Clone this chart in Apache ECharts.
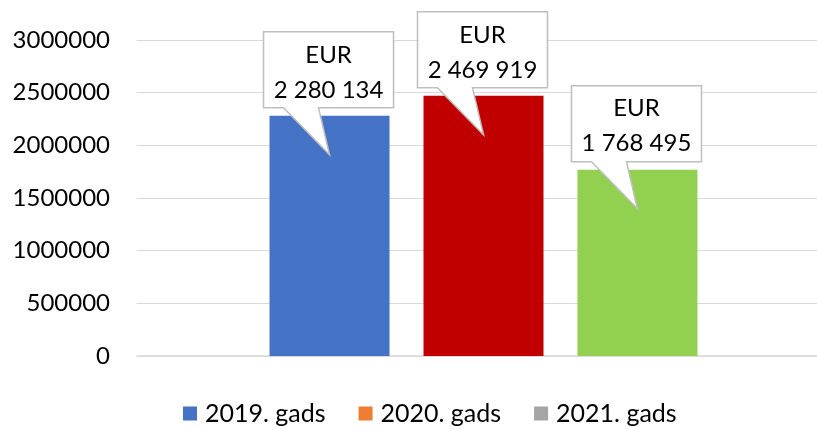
<!DOCTYPE html>
<html>
<head>
<meta charset="utf-8">
<script src="https://cdn.jsdelivr.net/npm/echarts@6/dist/echarts.min.js"></script>
<style>
html,body{margin:0;padding:0;background:#fff;overflow:hidden;}
#chart{width:817px;height:429px;}
</style>
</head>
<body>
<div id="chart"></div>
<script>
const categories = [''];
const seriesNames = ['2019. gads', '2020. gads', '2021. gads'];
const values2019 = [2280134];
const values2020 = [2469919];
const values2021 = [1768495];
const currency = 'EUR';
const yMin = 0;
const yMax = 3000000;
const yInterval = 500000;

const legendColors = ['#4472C4', '#ED7D31', '#A5A5A5'];
const barColors = ['#4472C4', '#C00000', '#92D050'];
const FONT = 'Lato';

function fmt(v) {
  return String(v).replace(/\B(?=(\d{3})+(?!\d))/g, ' ');
}

const calloutPath = 'path://M0,0 L130,0 L130,76 L55,76 L66,123 L20,76 L0,76 Z';

function makeSeries(name, values, idx) {
  return {
    name: name,
    type: 'bar',
    barWidth: 120,
    barGap: '28.3%',
    itemStyle: { color: legendColors[idx] },
    data: values.map(v => ({ value: v, itemStyle: { color: barColors[idx] } })),
    markPoint: {
      silent: true,
      symbol: calloutPath,
      symbolSize: [130, 123],
      symbolOffset: [-1, -22.5],
      symbolKeepAspect: false,
      itemStyle: { color: '#ffffff', borderColor: '#BFBFBF', borderWidth: 1.5 },
      label: {
        show: true,
        position: 'inside',
        offset: [0, -21],
        color: '#000000',
        fontFamily: FONT,
        fontSize: 24,
        lineHeight: 35,
        formatter: p => currency + '\n' + fmt(p.value)
      },
      data: values.map((v, i) => ({ coord: [i, v], value: v }))
    }
  };
}

const chart = echarts.init(document.getElementById('chart'), null, { renderer: 'canvas' });
chart.setOption({
  animation: false,
  backgroundColor: '#ffffff',
  grid: { left: 137, right: -13, top: 40, bottom: 73, containLabel: false, outerBoundsMode: 'none' },
  legend: {
    left: 183,
    top: 401,
    padding: 0,
    icon: 'rect',
    itemWidth: 14,
    itemHeight: 14,
    itemGap: 33,
    textStyle: { fontFamily: FONT, fontSize: 25, color: '#000000', padding: [0, 0, 0, 3] },
    data: seriesNames
  },
  xAxis: {
    type: 'category',
    data: categories,
    axisLine: { show: true, lineStyle: { color: '#D9D9D9', width: 1.5 } },
    axisTick: { show: false },
    axisLabel: { show: false }
  },
  yAxis: {
    type: 'value',
    min: yMin,
    max: yMax,
    interval: yInterval,
    axisLine: { show: false },
    axisTick: { show: false },
    splitLine: { lineStyle: { color: '#D9D9D9', width: 1 } },
    axisLabel: {
      margin: 27,
      color: '#000000',
      fontFamily: FONT,
      fontSize: 24,
      formatter: v => String(v)
    }
  },
  series: [
    makeSeries(seriesNames[0], values2019, 0),
    makeSeries(seriesNames[1], values2020, 1),
    makeSeries(seriesNames[2], values2021, 2)
  ]
});
</script>
</body>
</html>
